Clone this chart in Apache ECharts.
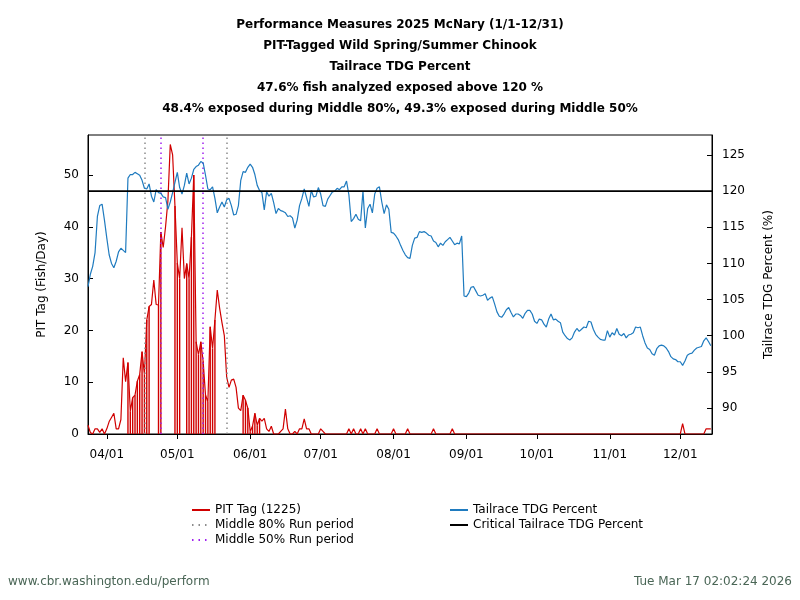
<!DOCTYPE html>
<html><head><meta charset="utf-8">
<script src="https://cdn.jsdelivr.net/npm/echarts@6/dist/echarts.min.js"></script>
<style>html,body{margin:0;padding:0;background:#fff}#c{width:800px;height:600px}</style>
</head><body><div id="c"></div>
<script>
// ---- data ----
const startDate = [2025, 2, 24]; // Mar 24 2025 = day 0
const pitTag = [
1.7,0.3,0,1,1,0.3,1,0,1,2.4,
3.2,4,1,1,2.8,14.7,10.1,13.8,4.4,7,
7.5,10.2,11.5,15.9,11.5,22,24.6,25,29.7,25,
24.9,39,36,40,45,55.9,53.9,44,33,30,
39.8,30,32.9,30,38,50,17.8,15.3,17.8,14,
7.5,6.2,20.7,16.5,22,27.8,24.3,21.5,19,11,
9,10.4,10.6,9,5,4.5,7.5,6.5,5,0.5,
1.5,4,1.7,3,2.5,3,1,0.5,1.5,0,
0,0,0.5,1,4.8,1,0,0,0.5,0,
1,1,2.9,1,1,0,0,0,0,1,
0.5,0,0,0,0,0,0,0,0,0,
0,1,0,1,0,0,1,0,1,0,
0,0,0,1,0,0,0,0,0,0,
1,0,0,0,0,0,1,0,0,0,
0,0,0,0,0,0,0,1,0,0,
0,0,0,0,0,1,0,0,0,0,
0,0,0,0,0,0,0,0,0,0,
0,0,0,0,0,0,0,0,0,0,
0,0,0,0,0,0,0,0,0,0,
0,0,0,0,0,0,0,0,0,0,
0,0,0,0,0,0,0,0,0,0,
0,0,0,0,0,0,0,0,0,0,
0,0,0,0,0,0,0,0,0,0,
0,0,0,0,0,0,0,0,0,0,
0,0,0,0,0,0,0,0,0,0,
0,0,0,2,0,0,0,0,0,0,
0,0,0,1,1,1
];
const impulseDays = [17,18,19,20,21,22,23,24,25,26,30,31,37,38,39,42,43,44,45,46,47,48,49,50,51,52,53,54,66,67,68,69,70,71,72,73];
const tdg = [
106.8,108.5,109.6,111.5,116.5,118.0,118.2,116.0,113.5,111.2,
110.0,109.4,110.3,111.6,112.1,111.8,111.5,121.8,122.3,122.3,
122.6,122.4,122.2,121.5,120.4,120.3,121.0,119.3,118.5,120.2,
119.8,119.7,119.2,119.1,117.5,118.5,119.8,121.2,122.6,120.5,
119.6,120.8,122.5,121.0,121.8,123.0,123.4,123.6,124.1,123.9,
122.2,120.3,120.2,120.6,119.0,117.0,117.8,118.5,117.8,118.8,
119.0,118.0,116.7,116.8,118.0,121.5,122.7,122.6,123.3,123.75,
123.3,122.3,120.8,120.1,119.8,117.4,119.9,119.3,119.7,118.4,
116.9,117.6,117.3,117.2,117.0,116.5,116.6,116.3,114.9,116.0,
118.0,119.0,120.3,119.1,117.9,120.1,119.2,119.3,120.5,119.6,
118.0,117.9,118.9,119.4,119.9,120.0,120.4,120.2,120.6,120.6,
121.4,119.5,115.8,116.2,116.8,116.1,115.9,120.0,114.9,117.6,
118.2,117.0,119.6,120.4,120.6,118.5,116.9,118.1,117.5,114.3,
114.2,113.8,113.3,112.5,111.8,111.2,110.8,110.7,112.5,113.5,
113.6,114.4,114.3,114.4,114.2,113.9,113.8,113.1,112.9,112.3,
112.8,112.5,113.0,113.3,113.6,113.1,112.6,112.8,112.7,113.8,
105.5,105.4,105.9,106.7,106.8,106.2,105.6,105.5,105.6,105.8,
104.9,105.2,105.4,104.4,103.3,102.7,102.55,103.0,103.6,103.9,
103.2,102.6,103.0,103.0,102.8,102.4,103.1,103.5,103.5,103.0,
102.0,101.7,102.3,102.2,101.6,101.2,102.3,103.0,102.2,102.3,
102.0,101.8,100.5,100.0,99.6,99.4,99.7,100.5,101.0,100.6,
100.9,101.2,101.1,102.0,101.9,100.9,100.2,99.8,99.5,99.4,
99.4,100.7,99.8,100.4,100.1,101.0,100.2,100.0,100.3,99.7,
100.1,100.2,100.4,101.2,101.1,101.2,100.0,99.0,98.3,98.1,
97.5,97.3,98.2,98.6,98.7,98.6,98.3,97.8,97.1,96.8,
96.7,96.4,96.4,95.9,96.5,97.3,97.5,97.6,98.0,98.3,
98.4,98.5,99.3,99.7,99.2,98.6
];
const criticalTDG = 120;
const mid80Run = ['2025-04-17', '2025-05-22'];
const mid50Run = ['2025-04-24', '2025-05-12'];
const monthTicks = ['2025-04-01','2025-05-01','2025-06-01','2025-07-01','2025-08-01','2025-09-01','2025-10-01','2025-11-01','2025-12-01'];
const leftTicks = [0,10,20,30,40,50];
const rightTicks = [90,95,100,105,110,115,120,125];
const titleLines = [
  'Performance Measures 2025 McNary (1/1-12/31)',
  'PIT-Tagged Wild Spring/Summer Chinook',
  'Tailrace TDG Percent',
  '47.6% fish analyzed exposed above 120 %',
  '48.4% exposed during Middle 80%, 49.3% exposed during Middle 50%'
];
const legendNames = ['PIT Tag (1225)', 'Middle 80% Run period', 'Middle 50% Run period', 'Tailrace TDG Percent', 'Critical Tailrace TDG Percent'];

// ---- helpers ----
function ts(s){ const p = s.split('-').map(Number); return new Date(p[0], p[1]-1, p[2]).getTime(); }
function dayTs(i){ return new Date(startDate[0], startDate[1], startDate[2] + i).getTime(); }
const DAY = 86400000;
const xMin = dayTs(0);
const xMax = xMin + 265.5 * DAY;
const FONT = 'DejaVu Sans';
const RED = '#d00000', BLUE = '#1f7bbf', GRAY = '#8c8c8c', PURPLE = '#a020f0';

const pitData = pitTag.map((v, i) => [dayTs(i), v]);
const impulseData = impulseDays.map(d => [dayTs(d), pitTag[d]]);
const tdgData = tdg.map((v, i) => [dayTs(i), v]);
const critData = [[xMin, criticalTDG], [xMax, criticalTDG]];
const monthTs = monthTicks.map(ts);

const chart = echarts.init(document.getElementById('c'), null, {renderer: 'canvas'});
const dotted = [1.5, 3.5];
const legendCommon = {orient: 'vertical', top: 499, itemWidth: 18, itemHeight: 10, itemGap: 3,
  itemStyle: {opacity: 0}, textStyle: {fontFamily: FONT, fontSize: 12, color: '#000', lineHeight: 12}, selectedMode: false};
chart.setOption({
  animation: false,
  backgroundColor: '#fff',
  textStyle: {fontFamily: FONT},
  title: {
    text: titleLines.join('\n'),
    left: 'center', top: 9,
    textStyle: {fontFamily: FONT, fontSize: 12, fontWeight: 'bold', color: '#000', lineHeight: 21}
  },
  grid: {left: 88, right: 88, top: 135, bottom: 166, show: true, borderColor: '#000', borderWidth: 1, backgroundColor: 'transparent'},
  legend: [
    Object.assign({data: legendNames.slice(0, 3), left: 186}, legendCommon),
    Object.assign({data: legendNames.slice(3), left: 444}, legendCommon)
  ],
  xAxis: {
    type: 'value', min: xMin, max: xMax,
    axisLine: {show: true, lineStyle: {color: '#000', width: 1}},
    axisTick: {show: true, customValues: monthTs, length: 5, lineStyle: {color: '#000'}},
    axisLabel: {customValues: monthTs, margin: 15, fontFamily: FONT, fontSize: 12, color: '#000',
      formatter: function (v) { const d = new Date(v); return String(d.getMonth()+1).padStart(2,'0') + '/' + String(d.getDate()).padStart(2,'0'); }},
    splitLine: {show: false}
  },
  yAxis: [
    {type: 'value', position: 'left', min: 0, max: 57.72,
     name: 'PIT Tag (Fish/Day)', nameLocation: 'middle', nameGap: 40, nameRotate: 90,
     nameTextStyle: {fontFamily: FONT, fontSize: 12, color: '#000'},
     axisLine: {show: true, lineStyle: {color: '#000'}},
     axisTick: {show: true, inside: true, length: 5, customValues: leftTicks, lineStyle: {color: '#000'}},
     axisLabel: {customValues: leftTicks, margin: 9, fontFamily: FONT, fontSize: 12, color: '#000'},
     splitLine: {show: false}},
    {type: 'value', position: 'right', min: 86.4, max: 127.77,
     name: 'Tailrace TDG Percent (%)', nameLocation: 'middle', nameGap: 51, nameRotate: 90,
     nameTextStyle: {fontFamily: FONT, fontSize: 12, color: '#000'},
     axisLine: {show: true, lineStyle: {color: '#000'}},
     axisTick: {show: true, inside: true, length: 5, customValues: rightTicks, lineStyle: {color: '#000'}},
     axisLabel: {customValues: rightTicks, margin: 10, fontFamily: FONT, fontSize: 12, color: '#000'},
     splitLine: {show: false}}
  ],
  series: [
    {name: legendNames[0], type: 'line', yAxisIndex: 0, data: pitData, symbol: 'none', showSymbol: false,
     lineStyle: {color: RED, width: 1.2}, itemStyle: {color: RED}, z: 4,
     markLine: {silent: true, symbol: ['none','none'], label: {show: false}, animation: false,
       data: [
         ...mid80Run.map(d => ({xAxis: ts(d), lineStyle: {color: GRAY, type: dotted, width: 1.5}})),
         ...mid50Run.map(d => ({xAxis: ts(d), lineStyle: {color: PURPLE, type: dotted, width: 1.5}}))
       ]}},
    {name: 'impulses', type: 'bar', yAxisIndex: 0, data: impulseData, barWidth: 1.4, itemStyle: {color: RED}, z: 3},
    {name: legendNames[1], type: 'line', yAxisIndex: 0, data: [], symbol: 'none',
     lineStyle: {color: GRAY, type: [1.5, 5], width: 1.5}, itemStyle: {color: GRAY}},
    {name: legendNames[2], type: 'line', yAxisIndex: 0, data: [], symbol: 'none',
     lineStyle: {color: PURPLE, type: [1.5, 5], width: 1.5}, itemStyle: {color: PURPLE}},
    {name: legendNames[3], type: 'line', yAxisIndex: 1, data: tdgData, symbol: 'none', showSymbol: false,
     lineStyle: {color: BLUE, width: 1.2}, itemStyle: {color: BLUE}, z: 5},
    {name: legendNames[4], type: 'line', yAxisIndex: 1, data: critData, symbol: 'none', showSymbol: false,
     lineStyle: {color: '#000', width: 1.6}, itemStyle: {color: '#000'}, z: 6}
  ],
  graphic: [
    {type: 'text', left: 8, top: 576, style: {text: 'www.cbr.washington.edu/perform', font: '12px "DejaVu Sans"', fill: '#4a6656'}},
    {type: 'text', right: 8, top: 576, style: {text: 'Tue Mar 17 02:02:24 2026', font: '12px "DejaVu Sans"', fill: '#4a6656'}}
  ]
});
</script></body></html>
